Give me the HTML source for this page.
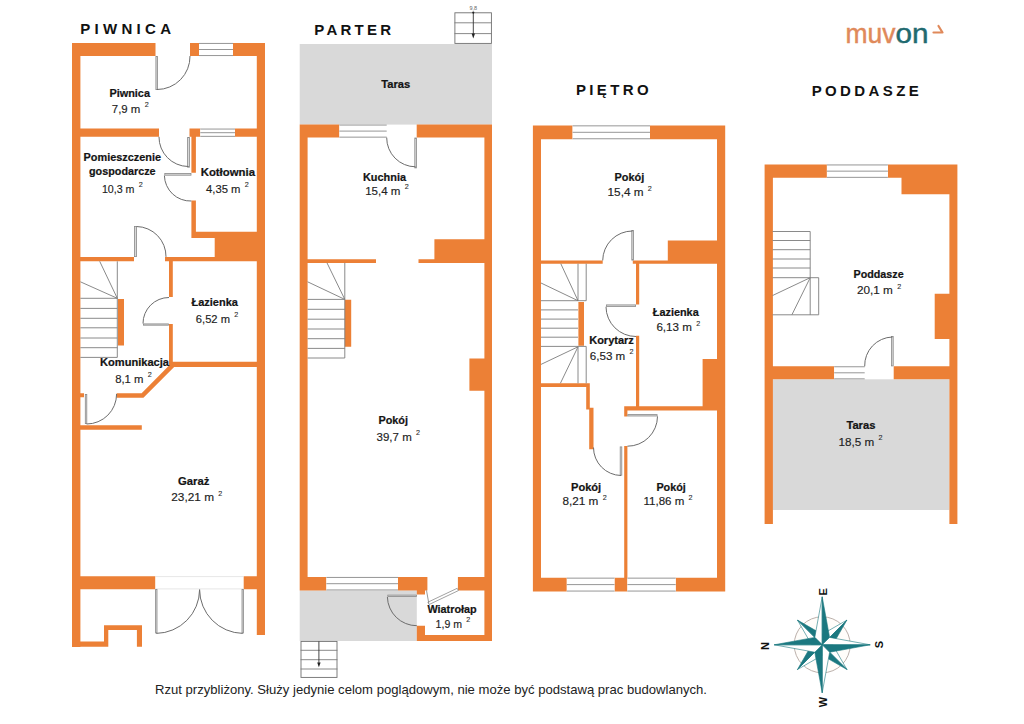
<!DOCTYPE html>
<html><head><meta charset="utf-8"><style>
html,body{margin:0;padding:0;background:#fff;width:1024px;height:724px;overflow:hidden}
svg{display:block}
text{font-family:"Liberation Sans", sans-serif}
</style></head><body>
<svg width="1024" height="724" viewBox="0 0 1024 724" shape-rendering="auto">
<rect x="0" y="0" width="1024" height="724" fill="#fff"/>
<rect x="299.70" y="44.00" width="192.30" height="80.60" fill="#d9d9d9"/>
<rect x="299.70" y="590.40" width="117.10" height="50.60" fill="#d9d9d9"/>
<rect x="772.60" y="379.30" width="176.80" height="130.70" fill="#d9d9d9"/>
<path fill="#ec8036" d="M72.00,43.00h8.40v604.00h-8.40ZM72.00,43.00h83.50v13.00h-83.50ZM190.00,43.00h9.00v13.00h-9.00ZM233.00,43.00h32.00v13.00h-32.00ZM256.80,43.00h8.20v592.00h-8.20ZM80.00,128.60h79.00v8.20h-79.00ZM189.50,128.60h10.80v8.20h-10.80ZM235.00,128.60h22.00v8.20h-22.00ZM191.40,136.80h4.50v35.90h-4.50ZM191.40,200.50h4.50v37.50h-4.50ZM191.40,231.70h65.60v6.30h-65.60ZM214.70,231.70h42.30v29.50h-42.30ZM80.00,256.90h54.00v4.40h-54.00ZM165.00,256.90h92.00v4.40h-92.00ZM118.00,299.00h6.00v46.60h-6.00ZM169.00,261.30h3.80v35.70h-3.80ZM169.00,324.00h3.80v42.00h-3.80ZM169.00,361.70h88.00v5.30h-88.00ZM80.00,425.30h61.80v4.50h-61.80ZM80.00,393.20h4.00v4.00h-4.00ZM80.00,576.30h75.20v12.90h-75.20ZM243.70,576.30h13.30v12.90h-13.30ZM72.00,641.40h36.30v5.30h-36.30ZM104.00,625.30h4.30v21.40h-4.30ZM104.00,625.30h38.00v4.70h-38.00ZM136.90,625.30h5.10v21.40h-5.10ZM299.70,124.60h39.70v13.00h-39.70ZM416.70,124.60h75.30v13.00h-75.30ZM299.70,124.60h7.90v465.80h-7.90ZM484.40,124.60h7.60v516.40h-7.60ZM434.40,239.20h50.00v23.70h-50.00ZM307.60,259.20h68.40v3.70h-68.40ZM418.50,259.20h65.90v3.70h-65.90ZM344.80,299.80h6.40v46.90h-6.40ZM469.40,358.50h15.00v32.20h-15.00ZM299.70,577.00h26.70v13.40h-26.70ZM398.00,577.00h29.40v13.40h-29.40ZM416.80,589.00h8.20v5.50h-8.20ZM457.90,577.00h26.50v13.40h-26.50ZM416.80,625.70h8.20v15.30h-8.20ZM416.80,635.00h75.20v6.00h-75.20ZM532.90,125.40h39.70v13.80h-39.70ZM650.00,125.40h75.20v13.80h-75.20ZM532.90,125.40h8.10v466.10h-8.10ZM717.00,125.40h8.20v466.10h-8.20ZM541.00,260.50h61.70v3.20h-61.70ZM632.80,260.50h84.20v3.20h-84.20ZM667.80,240.50h49.20v23.20h-49.20ZM636.00,263.70h3.20v40.80h-3.20ZM636.00,335.70h3.20v71.60h-3.20ZM578.40,302.00h5.60v43.80h-5.60ZM541.00,383.30h48.20v3.60h-48.20ZM586.20,383.30h3.60v26.20h-3.60ZM589.20,407.80h4.30v41.40h-4.30ZM624.20,446.00h3.20v131.70h-3.20ZM624.20,406.30h3.20v10.10h-3.20ZM624.20,406.30h92.80v4.30h-92.80ZM702.60,359.00h14.40v47.30h-14.40ZM532.90,577.70h33.90v13.80h-33.90ZM614.50,577.70h12.90v13.80h-12.90ZM675.70,577.70h49.50v13.80h-49.50ZM764.60,164.50h62.30v13.30h-62.30ZM887.90,164.50h69.40v13.30h-69.40ZM901.50,164.50h55.80v29.70h-55.80ZM764.60,164.50h8.30v359.40h-8.30ZM949.40,164.50h8.00v359.40h-8.00ZM934.70,293.80h14.70v45.10h-14.70ZM772.60,366.30h61.60v13.00h-61.60ZM893.70,366.30h55.70v13.00h-55.70Z"/>
<rect x="199.00" y="43.00" width="34.00" height="13.00" fill="#ffffff"/>
<line x1="199.00" y1="43.45" x2="233.00" y2="43.45" stroke="#8a8a8a" stroke-width="0.9"/>
<line x1="199.00" y1="49.50" x2="233.00" y2="49.50" stroke="#8a8a8a" stroke-width="0.9"/>
<line x1="199.00" y1="55.55" x2="233.00" y2="55.55" stroke="#8a8a8a" stroke-width="0.9"/>
<rect x="200.30" y="128.60" width="34.70" height="8.20" fill="#ffffff"/>
<line x1="200.30" y1="129.05" x2="235.00" y2="129.05" stroke="#8a8a8a" stroke-width="0.9"/>
<line x1="200.30" y1="132.70" x2="235.00" y2="132.70" stroke="#8a8a8a" stroke-width="0.9"/>
<line x1="200.30" y1="136.35" x2="235.00" y2="136.35" stroke="#8a8a8a" stroke-width="0.9"/>
<rect x="155.90" y="56.40" width="1.70" height="33.20" fill="#d8d8d8" stroke="#8a8a8a" stroke-width="0.8"/>
<path d="M190.00,56.00 A33,33 0 0 1 157.00,89.50" fill="none" stroke="#6c6c6c" stroke-width="1.0"/>
<rect x="187.60" y="137.40" width="1.80" height="29.80" fill="#d8d8d8" stroke="#8a8a8a" stroke-width="0.8"/>
<path d="M159.00,136.80 A29.5,29.5 0 0 0 188.00,166.50" fill="none" stroke="#6c6c6c" stroke-width="1.0"/>
<rect x="164.80" y="173.40" width="26.20" height="1.80" fill="#d8d8d8" stroke="#8a8a8a" stroke-width="0.8"/>
<path d="M164.40,175.60 A26,26 0 0 0 191.40,201.00" fill="none" stroke="#6c6c6c" stroke-width="1.0"/>
<rect x="134.40" y="226.40" width="2.20" height="30.20" fill="#d8d8d8" stroke="#8a8a8a" stroke-width="0.8"/>
<path d="M136.50,226.50 A30,30 0 0 1 166.00,256.90" fill="none" stroke="#6c6c6c" stroke-width="1.0"/>
<line x1="117.30" y1="261.30" x2="117.30" y2="357.40" stroke="#7d7d7d" stroke-width="0.9"/>
<line x1="117.30" y1="298.30" x2="99.70" y2="261.30" stroke="#7d7d7d" stroke-width="0.9"/>
<line x1="117.30" y1="298.30" x2="80.40" y2="281.80" stroke="#7d7d7d" stroke-width="0.9"/>
<line x1="80.40" y1="298.30" x2="117.30" y2="298.30" stroke="#7d7d7d" stroke-width="0.9"/>
<line x1="80.40" y1="308.40" x2="117.30" y2="308.40" stroke="#7d7d7d" stroke-width="0.9"/>
<line x1="80.40" y1="318.30" x2="117.30" y2="318.30" stroke="#7d7d7d" stroke-width="0.9"/>
<line x1="80.40" y1="327.80" x2="117.30" y2="327.80" stroke="#7d7d7d" stroke-width="0.9"/>
<line x1="80.40" y1="338.00" x2="117.30" y2="338.00" stroke="#7d7d7d" stroke-width="0.9"/>
<line x1="80.40" y1="347.70" x2="117.30" y2="347.70" stroke="#7d7d7d" stroke-width="0.9"/>
<line x1="80.40" y1="357.40" x2="117.30" y2="357.40" stroke="#7d7d7d" stroke-width="0.9"/>
<rect x="143.40" y="323.90" width="25.20" height="1.30" fill="#d8d8d8" stroke="#8a8a8a" stroke-width="0.8"/>
<path d="M143.00,323.50 A26,26 0 0 1 169.00,297.50" fill="none" stroke="#6c6c6c" stroke-width="1.0"/>
<polyline points="116.6,395.5 142.5,395.5 173.5,364.4 257,364.4" fill="none" stroke="#ec8036" stroke-width="4.6" stroke-linejoin="miter"/>
<rect x="85.30" y="394.40" width="1.50" height="29.20" fill="#d8d8d8" stroke="#8a8a8a" stroke-width="0.8"/>
<path d="M116.60,394.00 A30,30 0 0 1 86.60,424.00" fill="none" stroke="#6c6c6c" stroke-width="1.0"/>
<line x1="155.20" y1="576.60" x2="243.70" y2="576.60" stroke="#cfcfcf" stroke-width="0.5"/>
<line x1="155.20" y1="588.90" x2="243.70" y2="588.90" stroke="#cfcfcf" stroke-width="0.5"/>
<rect x="155.60" y="589.60" width="1.40" height="43.40" fill="#d8d8d8" stroke="#8a8a8a" stroke-width="0.8"/>
<path d="M156.30,633.40 A44,44 0 0 0 199.60,589.60" fill="none" stroke="#6c6c6c" stroke-width="1.0"/>
<rect x="242.00" y="589.60" width="1.40" height="43.40" fill="#d8d8d8" stroke="#8a8a8a" stroke-width="0.8"/>
<path d="M199.60,589.60 A44,44 0 0 0 242.70,633.40" fill="none" stroke="#6c6c6c" stroke-width="1.0"/>
<text x="80.20" y="33.80" font-size="15" font-weight="bold" fill="#111" textLength="90.80" lengthAdjust="spacing">PIWNICA</text>
<text x="109.40" y="97.30" font-size="11.5" font-weight="bold" fill="#141414" stroke="#141414" stroke-width="0.22" textLength="40.60" lengthAdjust="spacingAndGlyphs">Piwnica</text>
<text x="111.80" y="112.90" font-size="11.4" fill="#222" stroke="#222" stroke-width="0.15" textLength="28.60" lengthAdjust="spacingAndGlyphs">7,9 m</text>
<text x="144.70" y="107.30" font-size="7.2" fill="#2a2a2a" stroke="#2a2a2a" stroke-width="0.1">2</text>
<text x="83.60" y="160.80" font-size="11.5" font-weight="bold" fill="#141414" stroke="#141414" stroke-width="0.22" textLength="77.40" lengthAdjust="spacingAndGlyphs">Pomieszczenie</text>
<text x="89.00" y="175.40" font-size="11.5" font-weight="bold" fill="#141414" stroke="#141414" stroke-width="0.22" textLength="66.60" lengthAdjust="spacingAndGlyphs">gospodarcze</text>
<text x="101.90" y="192.60" font-size="11.4" fill="#222" stroke="#222" stroke-width="0.15" textLength="32.60" lengthAdjust="spacingAndGlyphs">10,3 m</text>
<text x="138.80" y="187.00" font-size="7.2" fill="#2a2a2a" stroke="#2a2a2a" stroke-width="0.1">2</text>
<text x="200.70" y="176.30" font-size="11.5" font-weight="bold" fill="#141414" stroke="#141414" stroke-width="0.22" textLength="54.30" lengthAdjust="spacingAndGlyphs">Kotłownia</text>
<text x="206.00" y="192.60" font-size="11.4" fill="#222" stroke="#222" stroke-width="0.15" textLength="34.50" lengthAdjust="spacingAndGlyphs">4,35 m</text>
<text x="244.80" y="187.00" font-size="7.2" fill="#2a2a2a" stroke="#2a2a2a" stroke-width="0.1">2</text>
<text x="191.50" y="306.30" font-size="11.5" font-weight="bold" fill="#141414" stroke="#141414" stroke-width="0.22" textLength="46.40" lengthAdjust="spacingAndGlyphs">Łazienka</text>
<text x="195.80" y="322.60" font-size="11.4" fill="#222" stroke="#222" stroke-width="0.15" textLength="34.20" lengthAdjust="spacingAndGlyphs">6,52 m</text>
<text x="234.30" y="317.00" font-size="7.2" fill="#2a2a2a" stroke="#2a2a2a" stroke-width="0.1">2</text>
<text x="100.00" y="366.30" font-size="11.5" font-weight="bold" fill="#141414" stroke="#141414" stroke-width="0.22" textLength="69.00" lengthAdjust="spacingAndGlyphs">Komunikacja</text>
<text x="115.20" y="382.50" font-size="11.4" fill="#222" stroke="#222" stroke-width="0.15" textLength="28.30" lengthAdjust="spacingAndGlyphs">8,1 m</text>
<text x="147.80" y="376.90" font-size="7.2" fill="#2a2a2a" stroke="#2a2a2a" stroke-width="0.1">2</text>
<text x="178.00" y="484.90" font-size="11.5" font-weight="bold" fill="#141414" stroke="#141414" stroke-width="0.22" textLength="31.30" lengthAdjust="spacingAndGlyphs">Garaż</text>
<text x="171.30" y="501.40" font-size="11.4" fill="#222" stroke="#222" stroke-width="0.15" textLength="42.70" lengthAdjust="spacingAndGlyphs">23,21 m</text>
<text x="218.30" y="495.80" font-size="7.2" fill="#2a2a2a" stroke="#2a2a2a" stroke-width="0.1">2</text>
<rect x="454.9" y="12.8" width="36.5" height="30.6" fill="#fff" stroke="#6f6f6f" stroke-width="0.9"/>
<line x1="454.50" y1="22.80" x2="491.80" y2="22.80" stroke="#7d7d7d" stroke-width="0.9"/>
<line x1="454.50" y1="33.60" x2="491.80" y2="33.60" stroke="#7d7d7d" stroke-width="0.9"/>
<line x1="473.30" y1="12.40" x2="473.30" y2="34.50" stroke="#333" stroke-width="0.9"/>
<polygon points="471.6,33.4 475,33.4 473.3,38.6" fill="#222"/>
<circle cx="473.3" cy="12.6" r="1.1" fill="#222"/>
<text x="473.3" y="10.2" font-size="5.5" fill="#666" text-anchor="middle">9,8</text>
<rect x="339.40" y="124.60" width="47.30" height="13.00" fill="#ffffff"/>
<line x1="339.40" y1="125.05" x2="386.70" y2="125.05" stroke="#8a8a8a" stroke-width="0.9"/>
<line x1="339.40" y1="131.10" x2="386.70" y2="131.10" stroke="#8a8a8a" stroke-width="0.9"/>
<line x1="339.40" y1="137.15" x2="386.70" y2="137.15" stroke="#8a8a8a" stroke-width="0.9"/>
<rect x="414.80" y="138.00" width="1.80" height="29.90" fill="#d8d8d8" stroke="#8a8a8a" stroke-width="0.8"/>
<path d="M386.70,137.60 A29,29 0 0 0 415.50,166.80" fill="none" stroke="#6c6c6c" stroke-width="1.0"/>
<line x1="344.80" y1="262.90" x2="344.80" y2="358.00" stroke="#7d7d7d" stroke-width="0.9"/>
<line x1="344.80" y1="299.40" x2="327.00" y2="262.90" stroke="#7d7d7d" stroke-width="0.9"/>
<line x1="344.80" y1="299.40" x2="307.60" y2="281.80" stroke="#7d7d7d" stroke-width="0.9"/>
<line x1="307.60" y1="299.40" x2="344.80" y2="299.40" stroke="#7d7d7d" stroke-width="0.9"/>
<line x1="307.60" y1="309.30" x2="344.80" y2="309.30" stroke="#7d7d7d" stroke-width="0.9"/>
<line x1="307.60" y1="319.20" x2="344.80" y2="319.20" stroke="#7d7d7d" stroke-width="0.9"/>
<line x1="307.60" y1="329.00" x2="344.80" y2="329.00" stroke="#7d7d7d" stroke-width="0.9"/>
<line x1="307.60" y1="338.70" x2="344.80" y2="338.70" stroke="#7d7d7d" stroke-width="0.9"/>
<line x1="307.60" y1="348.40" x2="344.80" y2="348.40" stroke="#7d7d7d" stroke-width="0.9"/>
<line x1="307.60" y1="358.00" x2="344.80" y2="358.00" stroke="#7d7d7d" stroke-width="0.9"/>
<rect x="326.40" y="577.00" width="71.60" height="13.40" fill="#ffffff"/>
<line x1="326.40" y1="577.45" x2="398.00" y2="577.45" stroke="#8a8a8a" stroke-width="0.9"/>
<line x1="326.40" y1="583.70" x2="398.00" y2="583.70" stroke="#8a8a8a" stroke-width="0.9"/>
<line x1="326.40" y1="589.95" x2="398.00" y2="589.95" stroke="#8a8a8a" stroke-width="0.9"/>
<rect x="387.80" y="595.10" width="28.60" height="1.50" fill="#d8d8d8" stroke="#8a8a8a" stroke-width="0.8"/>
<path d="M387.40,597.00 A29.4,29.4 0 0 0 416.80,625.70" fill="none" stroke="#6c6c6c" stroke-width="1.0"/>
<polygon points="427.9,602.2 457.2,588.3 458.4,590.6 429.1,604.5" fill="#fff" stroke="#8a8a8a" stroke-width="0.8"/>
<line x1="426.50" y1="590.40" x2="428.80" y2="603.40" stroke="#7d7d7d" stroke-width="0.8"/>
<rect x="301" y="641.4" width="36" height="36" fill="#fff" stroke="#6f6f6f" stroke-width="0.9"/>
<line x1="300.60" y1="650.30" x2="337.40" y2="650.30" stroke="#7d7d7d" stroke-width="0.9"/>
<line x1="300.60" y1="659.70" x2="337.40" y2="659.70" stroke="#7d7d7d" stroke-width="0.9"/>
<line x1="300.60" y1="669.00" x2="337.40" y2="669.00" stroke="#7d7d7d" stroke-width="0.9"/>
<line x1="318.90" y1="641.40" x2="318.90" y2="663.00" stroke="#333" stroke-width="0.9"/>
<polygon points="317.2,662.5 320.6,662.5 318.9,667.3" fill="#222"/>
<text x="314.20" y="34.70" font-size="15" font-weight="bold" fill="#111" textLength="77.00" lengthAdjust="spacing">PARTER</text>
<text x="381.30" y="88.00" font-size="11.5" font-weight="bold" fill="#141414" stroke="#141414" stroke-width="0.22" textLength="29.00" lengthAdjust="spacingAndGlyphs">Taras</text>
<text x="363.00" y="181.20" font-size="11.5" font-weight="bold" fill="#141414" stroke="#141414" stroke-width="0.22" textLength="43.00" lengthAdjust="spacingAndGlyphs">Kuchnia</text>
<text x="365.20" y="194.50" font-size="11.4" fill="#222" stroke="#222" stroke-width="0.15" textLength="35.30" lengthAdjust="spacingAndGlyphs">15,4 m</text>
<text x="404.80" y="188.90" font-size="7.2" fill="#2a2a2a" stroke="#2a2a2a" stroke-width="0.1">2</text>
<text x="378.40" y="423.75" font-size="11.5" font-weight="bold" fill="#141414" stroke="#141414" stroke-width="0.22" textLength="29.60" lengthAdjust="spacingAndGlyphs">Pokój</text>
<text x="376.60" y="440.60" font-size="11.4" fill="#222" stroke="#222" stroke-width="0.15" textLength="35.10" lengthAdjust="spacingAndGlyphs">39,7 m</text>
<text x="416.00" y="435.00" font-size="7.2" fill="#2a2a2a" stroke="#2a2a2a" stroke-width="0.1">2</text>
<text x="427.40" y="613.40" font-size="11.5" font-weight="bold" fill="#141414" stroke="#141414" stroke-width="0.22" textLength="49.30" lengthAdjust="spacingAndGlyphs">Wiatrołap</text>
<text x="435.60" y="628.00" font-size="11.4" fill="#222" stroke="#222" stroke-width="0.15" textLength="26.40" lengthAdjust="spacingAndGlyphs">1,9 m</text>
<text x="466.30" y="622.40" font-size="7.2" fill="#2a2a2a" stroke="#2a2a2a" stroke-width="0.1">2</text>
<rect x="572.60" y="125.40" width="77.40" height="13.80" fill="#ffffff"/>
<line x1="572.60" y1="125.85" x2="650.00" y2="125.85" stroke="#8a8a8a" stroke-width="0.9"/>
<line x1="572.60" y1="132.30" x2="650.00" y2="132.30" stroke="#8a8a8a" stroke-width="0.9"/>
<line x1="572.60" y1="138.75" x2="650.00" y2="138.75" stroke="#8a8a8a" stroke-width="0.9"/>
<rect x="631.80" y="230.40" width="1.80" height="29.70" fill="#d8d8d8" stroke="#8a8a8a" stroke-width="0.8"/>
<path d="M602.70,260.50 A29.8,29.8 0 0 1 632.50,231.00" fill="none" stroke="#6c6c6c" stroke-width="1.0"/>
<rect x="606.40" y="304.90" width="29.20" height="1.50" fill="#d8d8d8" stroke="#8a8a8a" stroke-width="0.8"/>
<path d="M606.00,306.80 A30,30 0 0 0 636.00,336.50" fill="none" stroke="#6c6c6c" stroke-width="1.0"/>
<line x1="578.00" y1="263.70" x2="578.00" y2="300.70" stroke="#7d7d7d" stroke-width="0.9"/>
<line x1="586.20" y1="263.70" x2="586.20" y2="300.70" stroke="#7d7d7d" stroke-width="0.9"/>
<line x1="578.00" y1="300.70" x2="560.80" y2="263.70" stroke="#7d7d7d" stroke-width="0.9"/>
<line x1="578.00" y1="300.70" x2="541.00" y2="283.00" stroke="#7d7d7d" stroke-width="0.9"/>
<line x1="541.00" y1="300.70" x2="578.00" y2="300.70" stroke="#7d7d7d" stroke-width="0.9"/>
<line x1="541.00" y1="309.90" x2="578.00" y2="309.90" stroke="#7d7d7d" stroke-width="0.9"/>
<line x1="541.00" y1="319.10" x2="578.00" y2="319.10" stroke="#7d7d7d" stroke-width="0.9"/>
<line x1="541.00" y1="328.20" x2="578.00" y2="328.20" stroke="#7d7d7d" stroke-width="0.9"/>
<line x1="541.00" y1="337.20" x2="578.00" y2="337.20" stroke="#7d7d7d" stroke-width="0.9"/>
<line x1="541.00" y1="346.40" x2="578.00" y2="346.40" stroke="#7d7d7d" stroke-width="0.9"/>
<line x1="578.00" y1="300.70" x2="586.20" y2="300.70" stroke="#7d7d7d" stroke-width="0.9"/>
<line x1="578.00" y1="346.40" x2="578.00" y2="383.30" stroke="#7d7d7d" stroke-width="0.9"/>
<line x1="586.20" y1="346.40" x2="586.20" y2="383.30" stroke="#7d7d7d" stroke-width="0.9"/>
<line x1="578.00" y1="346.40" x2="586.20" y2="346.40" stroke="#7d7d7d" stroke-width="0.9"/>
<line x1="578.00" y1="346.80" x2="541.00" y2="364.40" stroke="#7d7d7d" stroke-width="0.9"/>
<line x1="578.00" y1="346.80" x2="560.40" y2="383.30" stroke="#7d7d7d" stroke-width="0.9"/>
<rect x="620.20" y="446.90" width="1.60" height="28.30" fill="#d8d8d8" stroke="#8a8a8a" stroke-width="0.8"/>
<path d="M593.50,447.50 A28,28 0 0 0 621.00,475.50" fill="none" stroke="#6c6c6c" stroke-width="1.0"/>
<rect x="627.80" y="414.60" width="29.30" height="1.40" fill="#d8d8d8" stroke="#8a8a8a" stroke-width="0.8"/>
<path d="M657.50,416.40 A30,30 0 0 1 627.40,446.20" fill="none" stroke="#6c6c6c" stroke-width="1.0"/>
<rect x="566.80" y="577.70" width="47.70" height="13.80" fill="#ffffff"/>
<line x1="566.80" y1="578.15" x2="614.50" y2="578.15" stroke="#8a8a8a" stroke-width="0.9"/>
<line x1="566.80" y1="584.60" x2="614.50" y2="584.60" stroke="#8a8a8a" stroke-width="0.9"/>
<line x1="566.80" y1="591.05" x2="614.50" y2="591.05" stroke="#8a8a8a" stroke-width="0.9"/>
<rect x="627.40" y="577.70" width="48.30" height="13.80" fill="#ffffff"/>
<line x1="627.40" y1="578.15" x2="675.70" y2="578.15" stroke="#8a8a8a" stroke-width="0.9"/>
<line x1="627.40" y1="584.60" x2="675.70" y2="584.60" stroke="#8a8a8a" stroke-width="0.9"/>
<line x1="627.40" y1="591.05" x2="675.70" y2="591.05" stroke="#8a8a8a" stroke-width="0.9"/>
<text x="575.90" y="94.70" font-size="15" font-weight="bold" fill="#111" textLength="72.70" lengthAdjust="spacing">PIĘTRO</text>
<text x="614.50" y="180.60" font-size="11.5" font-weight="bold" fill="#141414" stroke="#141414" stroke-width="0.22" textLength="29.70" lengthAdjust="spacingAndGlyphs">Pokój</text>
<text x="607.60" y="196.30" font-size="11.4" fill="#222" stroke="#222" stroke-width="0.15" textLength="35.90" lengthAdjust="spacingAndGlyphs">15,4 m</text>
<text x="647.80" y="190.70" font-size="7.2" fill="#2a2a2a" stroke="#2a2a2a" stroke-width="0.1">2</text>
<text x="652.80" y="316.30" font-size="11.5" font-weight="bold" fill="#141414" stroke="#141414" stroke-width="0.22" textLength="45.90" lengthAdjust="spacingAndGlyphs">Łazienka</text>
<text x="656.40" y="331.40" font-size="11.4" fill="#222" stroke="#222" stroke-width="0.15" textLength="35.50" lengthAdjust="spacingAndGlyphs">6,13 m</text>
<text x="696.20" y="325.80" font-size="7.2" fill="#2a2a2a" stroke="#2a2a2a" stroke-width="0.1">2</text>
<text x="589.20" y="344.00" font-size="11.5" font-weight="bold" fill="#141414" stroke="#141414" stroke-width="0.22" textLength="44.70" lengthAdjust="spacingAndGlyphs">Korytarz</text>
<text x="589.80" y="360.00" font-size="11.4" fill="#222" stroke="#222" stroke-width="0.15" textLength="35.50" lengthAdjust="spacingAndGlyphs">6,53 m</text>
<text x="629.60" y="354.40" font-size="7.2" fill="#2a2a2a" stroke="#2a2a2a" stroke-width="0.1">2</text>
<text x="571.00" y="490.50" font-size="11.5" font-weight="bold" fill="#141414" stroke="#141414" stroke-width="0.22" textLength="30.20" lengthAdjust="spacingAndGlyphs">Pokój</text>
<text x="562.50" y="505.10" font-size="11.4" fill="#222" stroke="#222" stroke-width="0.15" textLength="35.90" lengthAdjust="spacingAndGlyphs">8,21 m</text>
<text x="602.70" y="499.50" font-size="7.2" fill="#2a2a2a" stroke="#2a2a2a" stroke-width="0.1">2</text>
<text x="656.40" y="490.50" font-size="11.5" font-weight="bold" fill="#141414" stroke="#141414" stroke-width="0.22" textLength="29.40" lengthAdjust="spacingAndGlyphs">Pokój</text>
<text x="643.50" y="505.10" font-size="11.4" fill="#222" stroke="#222" stroke-width="0.15" textLength="40.80" lengthAdjust="spacingAndGlyphs">11,86 m</text>
<text x="688.60" y="499.50" font-size="7.2" fill="#2a2a2a" stroke="#2a2a2a" stroke-width="0.1">2</text>
<rect x="826.90" y="164.50" width="61.00" height="13.30" fill="#ffffff"/>
<line x1="826.90" y1="164.95" x2="887.90" y2="164.95" stroke="#8a8a8a" stroke-width="0.9"/>
<line x1="826.90" y1="171.15" x2="887.90" y2="171.15" stroke="#8a8a8a" stroke-width="0.9"/>
<line x1="826.90" y1="177.35" x2="887.90" y2="177.35" stroke="#8a8a8a" stroke-width="0.9"/>
<line x1="772.60" y1="231.50" x2="810.20" y2="231.50" stroke="#7d7d7d" stroke-width="0.9"/>
<line x1="772.60" y1="240.50" x2="810.20" y2="240.50" stroke="#7d7d7d" stroke-width="0.9"/>
<line x1="772.60" y1="249.70" x2="810.20" y2="249.70" stroke="#7d7d7d" stroke-width="0.9"/>
<line x1="772.60" y1="259.00" x2="810.20" y2="259.00" stroke="#7d7d7d" stroke-width="0.9"/>
<line x1="772.60" y1="268.00" x2="810.20" y2="268.00" stroke="#7d7d7d" stroke-width="0.9"/>
<line x1="772.60" y1="277.70" x2="810.20" y2="277.70" stroke="#7d7d7d" stroke-width="0.9"/>
<line x1="810.20" y1="231.50" x2="810.20" y2="314.80" stroke="#7d7d7d" stroke-width="0.9"/>
<line x1="818.70" y1="277.70" x2="818.70" y2="314.80" stroke="#7d7d7d" stroke-width="0.9"/>
<line x1="810.20" y1="277.70" x2="818.70" y2="277.70" stroke="#7d7d7d" stroke-width="0.9"/>
<line x1="810.20" y1="277.70" x2="772.60" y2="295.50" stroke="#7d7d7d" stroke-width="0.9"/>
<line x1="810.20" y1="277.70" x2="791.90" y2="314.80" stroke="#7d7d7d" stroke-width="0.9"/>
<line x1="772.60" y1="314.80" x2="818.70" y2="314.80" stroke="#7d7d7d" stroke-width="0.9"/>
<rect x="834.20" y="366.30" width="30.50" height="13.00" fill="#ffffff"/>
<line x1="834.20" y1="366.75" x2="864.70" y2="366.75" stroke="#8a8a8a" stroke-width="0.9"/>
<line x1="834.20" y1="372.80" x2="864.70" y2="372.80" stroke="#8a8a8a" stroke-width="0.9"/>
<line x1="834.20" y1="378.85" x2="864.70" y2="378.85" stroke="#8a8a8a" stroke-width="0.9"/>
<rect x="891.60" y="336.40" width="1.60" height="29.50" fill="#d8d8d8" stroke="#8a8a8a" stroke-width="0.8"/>
<path d="M864.70,366.30 A28.5,28.5 0 0 1 892.40,337.00" fill="none" stroke="#6c6c6c" stroke-width="1.0"/>
<text x="811.70" y="96.30" font-size="15" font-weight="bold" fill="#111" textLength="107.00" lengthAdjust="spacing">PODDASZE</text>
<text x="853.50" y="278.30" font-size="11.5" font-weight="bold" fill="#141414" stroke="#141414" stroke-width="0.22" textLength="50.10" lengthAdjust="spacingAndGlyphs">Poddasze</text>
<text x="857.00" y="294.20" font-size="11.4" fill="#222" stroke="#222" stroke-width="0.15" textLength="35.90" lengthAdjust="spacingAndGlyphs">20,1 m</text>
<text x="897.20" y="288.60" font-size="7.2" fill="#2a2a2a" stroke="#2a2a2a" stroke-width="0.1">2</text>
<text x="846.40" y="428.70" font-size="11.5" font-weight="bold" fill="#141414" stroke="#141414" stroke-width="0.22" textLength="29.00" lengthAdjust="spacingAndGlyphs">Taras</text>
<text x="838.50" y="445.50" font-size="11.4" fill="#222" stroke="#222" stroke-width="0.15" textLength="35.70" lengthAdjust="spacingAndGlyphs">18,5 m</text>
<text x="878.50" y="439.90" font-size="7.2" fill="#2a2a2a" stroke="#2a2a2a" stroke-width="0.1">2</text>
<text x="845.5" y="43.4" font-size="27" fill="#e0895a" stroke="#e0895a" stroke-width="0.45" textLength="50" lengthAdjust="spacingAndGlyphs">muv</text>
<text x="895.5" y="43.4" font-size="27" fill="#1f6a70" stroke="#1f6a70" stroke-width="0.45" textLength="33" lengthAdjust="spacingAndGlyphs">on</text>
<path d="M933.5,32.5 L942.5,32.5 L938.5,26" fill="none" stroke="#e0895a" stroke-width="2.2" stroke-linejoin="round" stroke-linecap="round"/>
<circle cx="822.2" cy="644.8" r="28" fill="#fffdfa" stroke="#b3a7a2" stroke-width="0.9"/>
<polygon points="822.20,644.80 797.45,620.05 811.70,644.80" fill="#ffffff" stroke="#1b7880" stroke-width="0.6" stroke-linejoin="miter"/>
<polygon points="822.20,644.80 797.45,620.05 822.20,634.30" fill="#1b7880" stroke="#1b7880" stroke-width="0.6" stroke-linejoin="miter"/>
<polygon points="822.20,644.80 846.95,620.05 822.20,634.30" fill="#ffffff" stroke="#1b7880" stroke-width="0.6" stroke-linejoin="miter"/>
<polygon points="822.20,644.80 846.95,620.05 832.70,644.80" fill="#1b7880" stroke="#1b7880" stroke-width="0.6" stroke-linejoin="miter"/>
<polygon points="822.20,644.80 846.95,669.55 832.70,644.80" fill="#ffffff" stroke="#1b7880" stroke-width="0.6" stroke-linejoin="miter"/>
<polygon points="822.20,644.80 846.95,669.55 822.20,655.30" fill="#1b7880" stroke="#1b7880" stroke-width="0.6" stroke-linejoin="miter"/>
<polygon points="822.20,644.80 797.45,669.55 822.20,655.30" fill="#ffffff" stroke="#1b7880" stroke-width="0.6" stroke-linejoin="miter"/>
<polygon points="822.20,644.80 797.45,669.55 811.70,644.80" fill="#1b7880" stroke="#1b7880" stroke-width="0.6" stroke-linejoin="miter"/>
<polygon points="822.20,644.80 822.20,596.80 814.78,637.38" fill="#ffffff" stroke="#1b7880" stroke-width="0.6" stroke-linejoin="miter"/>
<polygon points="822.20,644.80 822.20,596.80 829.62,637.38" fill="#1b7880" stroke="#1b7880" stroke-width="0.6" stroke-linejoin="miter"/>
<polygon points="822.20,644.80 870.20,644.80 829.62,637.38" fill="#ffffff" stroke="#1b7880" stroke-width="0.6" stroke-linejoin="miter"/>
<polygon points="822.20,644.80 870.20,644.80 829.62,652.22" fill="#1b7880" stroke="#1b7880" stroke-width="0.6" stroke-linejoin="miter"/>
<polygon points="822.20,644.80 822.20,692.80 829.62,652.22" fill="#ffffff" stroke="#1b7880" stroke-width="0.6" stroke-linejoin="miter"/>
<polygon points="822.20,644.80 822.20,692.80 814.78,652.22" fill="#1b7880" stroke="#1b7880" stroke-width="0.6" stroke-linejoin="miter"/>
<polygon points="822.20,644.80 774.20,644.80 814.78,652.22" fill="#ffffff" stroke="#1b7880" stroke-width="0.6" stroke-linejoin="miter"/>
<polygon points="822.20,644.80 774.20,644.80 814.78,637.38" fill="#1b7880" stroke="#1b7880" stroke-width="0.6" stroke-linejoin="miter"/>
<text x="0" y="0" font-size="11" font-weight="bold" fill="#111" text-anchor="middle" transform="translate(826.6,591.8) rotate(-90)">E</text>
<text x="0" y="0" font-size="11" font-weight="bold" fill="#111" text-anchor="middle" transform="translate(768.8,646.0) rotate(-90)">N</text>
<text x="0" y="0" font-size="11" font-weight="bold" fill="#111" text-anchor="middle" transform="translate(883.2,644.5) rotate(-90)">S</text>
<text x="0" y="0" font-size="11" font-weight="bold" fill="#111" text-anchor="middle" transform="translate(826.8,702.0) rotate(-90)">W</text>
<text x="155" y="694.4" font-size="13" fill="#222" textLength="552" lengthAdjust="spacingAndGlyphs">Rzut przybliżony. Służy jedynie celom poglądowym, nie może być podstawą prac budowlanych.</text>
</svg>
</body></html>
